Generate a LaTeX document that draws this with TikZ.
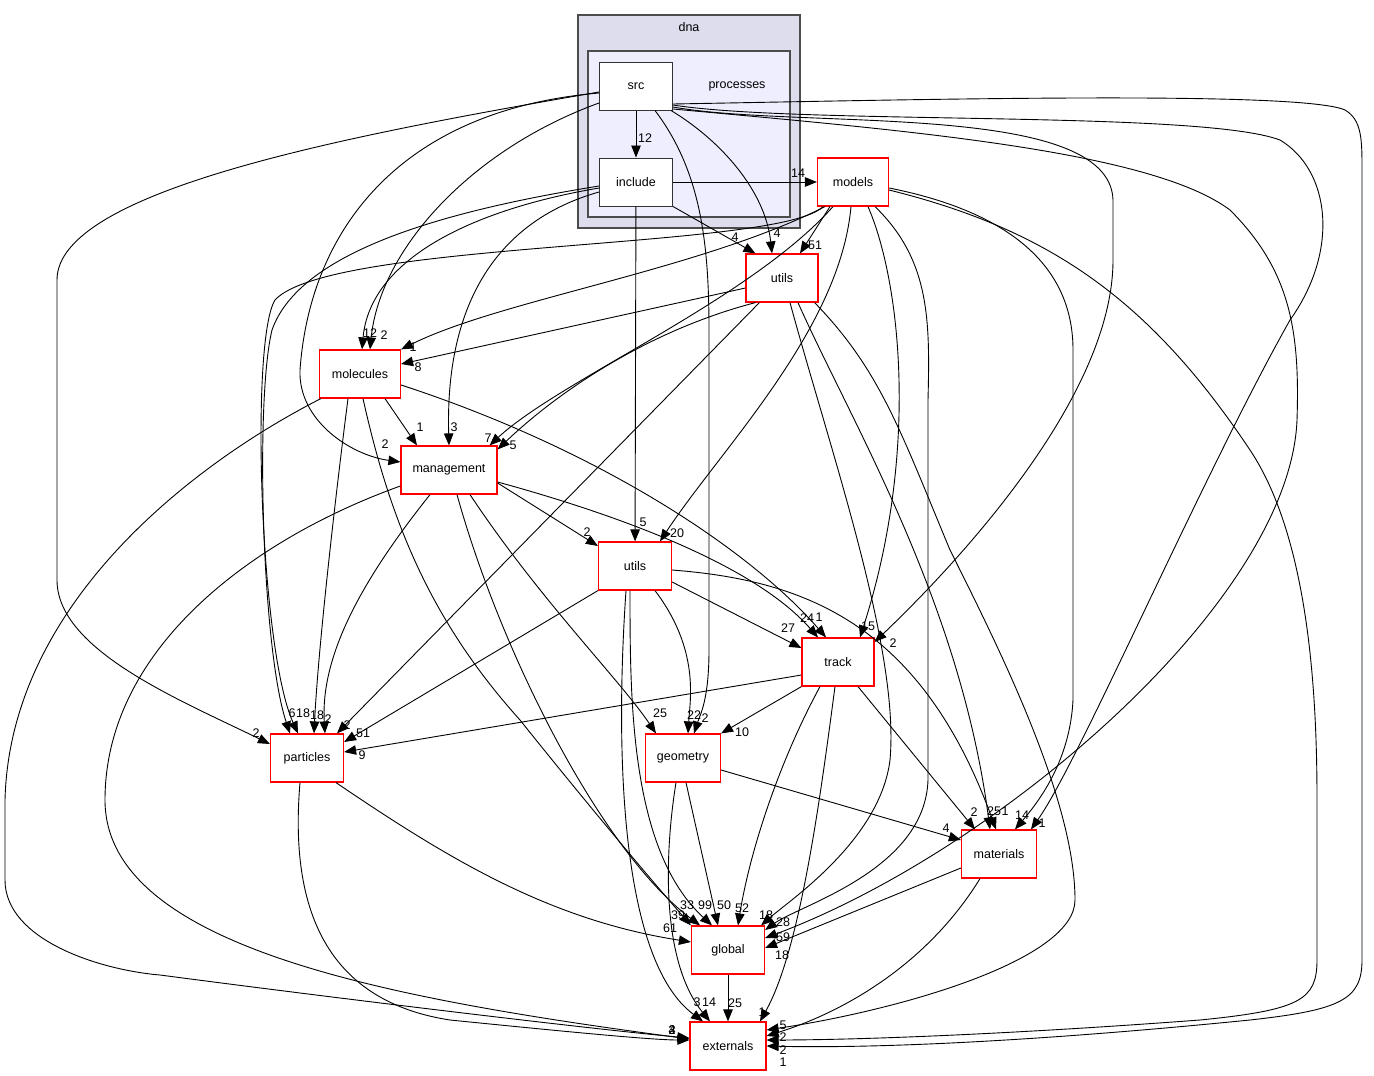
\documentclass[tikz,border=0pt]{standalone}
\usepackage{fontspec}
\setmainfont{Liberation Sans}
\usetikzlibrary{arrows.meta,calc}
\begin{document}
\begin{tikzpicture}[x=1pt,y=-1pt,
  dirnode/.style={draw=red, line width=1.2pt, fill=white, minimum height=48pt, inner sep=0pt, font=\fontsize{12.5}{14}\selectfont},
  plainnode/.style={draw=black!80, line width=1pt, fill=white, minimum height=48pt, minimum width=73pt, inner sep=0pt, font=\fontsize{12.5}{14}\selectfont},
  lbl/.style={inner sep=0pt, font=\fontsize{12.5}{14}\selectfont},
  edge/.style={line width=0.9pt, -{Triangle[length=12pt,width=9.5pt]}}]
\useasboundingbox (0,0) rectangle (1374,1076);
\fill[white] (0,0) rectangle (1374,1076);
% clusters
\draw[fill={rgb,255:red,221;green,221;blue,238}, draw=black!70, line width=1.2pt] (578,15) rectangle (800,228);
\node[lbl] (dnalbl) at (689,27) {dna};
\draw[fill={rgb,255:red,238;green,238;blue,255}, draw=black!70, line width=1.2pt] (588,51) rectangle (790,217);
\node[lbl] (proclbl) at (737,86) {processes};
% nodes
\node[plainnode] (src) at (636,86) {src};
\node[plainnode] (include) at (636,182) {include};
\node[dirnode, minimum width=71pt] (models) at (853,182) {models};
\node[dirnode, minimum width=72pt] (utilsA) at (782,278) {utils};
\node[dirnode, minimum width=81pt] (molecules) at (360,374) {molecules};
\node[dirnode, minimum width=96pt] (management) at (449,470) {management};
\node[dirnode, minimum width=73pt] (utilsB) at (635,566) {utils};
\node[dirnode, minimum width=72pt] (track) at (838,662) {track};
\node[dirnode, minimum width=73pt] (particles) at (307,758) {particles};
\node[dirnode, minimum width=75pt] (geometry) at (683,758) {geometry};
\node[dirnode, minimum width=75pt] (materials) at (999,854) {materials};
\node[dirnode, minimum width=73pt] (global) at (728,950) {global};
\node[dirnode, minimum width=76pt] (externals) at (728,1046) {externals};
% edges from src
\draw[edge] (src) -- (include);
\draw[edge] ($(src.west)+(0,6)$) .. controls (350,135) and (57,190) .. (57,280) -- (57,580) .. controls (57,650) and (180,700) .. ($(particles.west)+(0,-14)$);
\draw[edge] ($(src.west)+(0,7)$) .. controls (400,110) and (310,230) .. (300,370) .. controls (298,420) and (350,455) .. ($(management.west)+(0,-8)$);
\draw[edge] ($(src.west)+(0,17)$) .. controls (470,150) and (380,250) .. ($(molecules.north)+(10,0)$);
\draw[edge] ($(src.south east)+(-2,0)$) .. controls (720,140) and (765,190) .. ($(utilsA.north)+(-10,0)$);
\draw[edge] ($(src.south)+(19,0)$) .. controls (700,170) and (709,240) .. (709,330) -- (709,650) .. controls (709,700) and (700,715) .. ($(geometry.north)+(11,0)$);
\draw[edge] ($(src.east)+(0,21)$) .. controls (800,130) and (1110,100) .. (1113,200) -- (1113,260) .. controls (1113,400) and (950,570) .. ($(track.east)+(0,-20)$);
\draw[edge] ($(src.east)+(0,19)$) .. controls (800,125) and (1200,110) .. (1280,140) .. controls (1330,170) and (1340,250) .. (1290,320) .. controls (1200,480) and (1080,760) .. ($(materials.north)+(32,0)$);
\draw[edge] ($(src.east)+(0,23)$) .. controls (900,130) and (1150,150) .. (1230,210) .. controls (1290,270) and (1300,330) .. (1297,420) .. controls (1290,600) and (1000,850) .. ($(global.east)+(0,-12)$);
\draw[edge] ($(src.east)+(0,18)$) .. controls (900,100) and (1300,90) .. (1345,110) .. controls (1362,120) and (1362,140) .. (1362,170) -- (1362,960) .. controls (1362,1000) and (1340,1010) .. (1250,1020) .. controls (1000,1045) and (850,1048) .. (externals.east);
% edges from include
\draw[edge] (include) -- (models);
\draw[edge] (include.south east) -- ($(utilsA.north west)+(10,0)$);
\draw[edge] (include) -- (utilsB);
\draw[edge] ($(include.west)+(0,6)$) .. controls (470,210) and (370,260) .. ($(molecules.north)+(2,0)$);
\draw[edge] ($(include.west)+(0,10)$) .. controls (500,220) and (445,300) .. (management.north);
\draw[edge] ($(include.west)+(0,4)$) .. controls (450,210) and (300,250) .. (272,330) .. controls (255,400) and (262,650) .. ($(particles.north)+(-17,0)$);
% edges from models
\draw[edge] ($(models.south)+(-23,0)$) -- ($(utilsA.north)+(18,0)$);
\draw[edge] ($(models.south)+(-28,0)$) .. controls (700,270) and (500,300) .. (molecules.north east);
\draw[edge] ($(models.south)+(-30,0)$) .. controls (780,250) and (330,240) .. (275,300) .. controls (250,340) and (260,650) .. ($(particles.north)+(-9,0)$);
\draw[edge] ($(models.south)+(-20,0)$) .. controls (750,300) and (560,380) .. ($(management.north east)+(-8,0)$);
\draw[edge] ($(models.south)+(-2,0)$) .. controls (840,330) and (720,450) .. ($(utilsB.north)+(25,0)$);
\draw[edge] ($(models.south)+(15,0)$) .. controls (900,280) and (920,450) .. ($(track.north)+(22,0)$);
\draw[edge] ($(models.south)+(22,0)$) .. controls (930,260) and (930,320) .. (928,400) -- (928,780) .. controls (925,870) and (800,905) .. ($(global.east)+(0,-20)$);
\draw[edge] ($(models.east)+(0,6)$) .. controls (1000,210) and (1073,260) .. (1073,350) -- (1073,700) .. controls (1070,760) and (1040,800) .. ($(materials.north)+(16,0)$);
\draw[edge] ($(models.east)+(0,8)$) .. controls (1050,230) and (1150,300) .. (1250,450) .. controls (1310,540) and (1317,700) .. (1317,800) -- (1317,960) .. controls (1317,1000) and (1300,1010) .. (1200,1020) .. controls (1000,1035) and (850,1040) .. ($(externals.east)+(0,-6)$);
% edges from utils (top)
\draw[edge] ($(utilsA.west)+(0,10)$) -- ($(molecules.east)+(0,-10)$);
\draw[edge] ($(utilsA.south west)+(10,0)$) .. controls (650,330) and (560,390) .. ($(management.north east)+(0,4)$);
\draw[edge] ($(utilsA.south west)+(14,0)$) -- ($(particles.north)+(30,0)$);
\draw[edge] ($(utilsA.south)+(8,0)$) .. controls (830,450) and (900,650) .. (890,760) .. controls (880,840) and (790,900) .. ($(global.north east)+(-4,0)$);
\draw[edge] ($(utilsA.south)+(16,0)$) .. controls (850,420) and (960,600) .. ($(materials.north)+(-9,0)$);
\draw[edge] ($(utilsA.south east)+(-4,0)$) .. controls (880,370) and (900,430) .. (950,550) .. controls (1000,650) and (1075,800) .. (1075,900) .. controls (1075,960) and (900,1010) .. ($(externals.east)+(0,-16)$);
% edges from molecules
\draw[edge] ($(molecules.south)+(25,0)$) -- ($(management.north)+(-32,0)$);
\draw[edge] ($(molecules.south)+(-12,0)$) .. controls (335,500) and (318,650) .. ($(particles.north)+(7,0)$);
\draw[edge] ($(molecules.south)+(3,0)$) .. controls (390,520) and (430,620) .. (520,720) .. controls (600,820) and (660,890) .. (global.north west);
\draw[edge] ($(molecules.east)+(0,11)$) .. controls (600,450) and (750,550) .. ($(track.north)+(-12,0)$);
\draw[edge] ($(molecules.south west)+(2,0)$) .. controls (200,460) and (10,600) .. (5,800) -- (5,880) .. controls (5,940) and (100,970) .. (160,975) .. controls (350,1000) and (600,1030) .. ($(externals.west)+(0,-8)$);
% edges from management
\draw[edge] ($(management.east)+(0,13)$) -- ($(utilsB.west)+(0,-20)$);
\draw[edge] ($(management.east)+(0,12)$) .. controls (600,510) and (750,560) .. ($(track.north)+(-20,0)$);
\draw[edge] ($(management.south)+(21,0)$) .. controls (540,600) and (620,680) .. ($(geometry.north)+(-27,0)$);
\draw[edge] ($(management.south)+(8,0)$) .. controls (500,650) and (600,850) .. ($(global.north)+(-28,0)$);
\draw[edge] ($(management.south)+(-19,0)$) .. controls (370,570) and (320,650) .. ($(particles.north)+(18,0)$);
\draw[edge] ($(management.west)+(0,16)$) .. controls (250,540) and (105,650) .. (105,800) .. controls (105,950) and (400,1000) .. ($(externals.west)+(0,-7)$);
% edges from utils (mid)
\draw[edge] ($(utilsB.east)+(0,16)$) -- ($(track.west)+(0,-14)$);
\draw[edge] (utilsB.south west) -- ($(particles.east)+(0,-16)$);
\draw[edge] ($(utilsB.south)+(20,0)$) .. controls (700,650) and (690,700) .. ($(geometry.north)+(5,0)$);
\draw[edge] ($(utilsB.south)+(-5,0)$) .. controls (630,700) and (630,850) .. ($(global.north)+(-16,0)$);
\draw[edge] ($(utilsB.south)+(-9,0)$) .. controls (615,750) and (620,960) .. ($(externals.north)+(-25,0)$);
\draw[edge] ($(utilsB.east)+(0,4)$) .. controls (800,580) and (920,620) .. ($(materials.north)+(-3,0)$);
% edges from track
\draw[edge] ($(track.west)+(0,13)$) -- ($(particles.east)+(0,-6)$);
\draw[edge] (track.south west) -- (geometry.north east);
\draw[edge] ($(track.south)+(-18,0)$) .. controls (780,760) and (750,850) .. ($(global.north)+(10,0)$);
\draw[edge] ($(track.south)+(20,0)$) -- ($(materials.north)+(-24,0)$);
\draw[edge] ($(track.south)+(-3,0)$) .. controls (820,800) and (800,950) .. ($(externals.north)+(32,0)$);
% edges from particles, geometry, materials, global
\draw[edge] ($(particles.south)+(29,0)$) .. controls (450,860) and (550,920) .. ($(global.west)+(0,-8)$);
\draw[edge] ($(particles.south)+(-7,0)$) .. controls (290,900) and (320,1000) .. (450,1020) .. controls (550,1030) and (650,1040) .. ($(externals.west)+(0,-6)$);
\draw[edge] ($(geometry.east)+(0,12)$) -- ($(materials.west)+(0,-14)$);
\draw[edge] ($(geometry.south)+(3,0)$) -- ($(global.north)+(-10,0)$);
\draw[edge] ($(geometry.south)+(-7,0)$) .. controls (665,850) and (660,960) .. ($(externals.north)+(-18,0)$);
\draw[edge] ($(materials.west)+(0,14)$) -- ($(global.east)+(0,-2)$);
\draw[edge] ($(materials.south)+(-19,0)$) .. controls (930,960) and (850,1010) .. ($(externals.east)+(0,-10)$);
\draw[edge] (global) -- (externals);
% labels
\node[lbl] (l1) at (645,138) {12};
\node[lbl] (l2) at (256,733) {2};
\node[lbl] (l3) at (385,444) {2};
\node[lbl] (l4) at (384,335) {2};
\node[lbl] (l5) at (777,233) {4};
\node[lbl] (l6) at (705,718) {2};
\node[lbl] (l7) at (893,643) {2};
\node[lbl] (l8) at (1042,823) {1};
\node[lbl] (l9) at (783,937) {59};
\node[lbl] (l10) at (783,1062) {1};
\node[lbl] (l11) at (798,173) {14};
\node[lbl] (l12) at (735,237) {4};
\node[lbl] (l13) at (643,522) {5};
\node[lbl] (l14) at (370,333) {12};
\node[lbl] (l15) at (454,427) {3};
\node[lbl] (l16) at (292,713) {6};
\node[lbl] (l17) at (815,245) {51};
\node[lbl] (l18) at (413,347) {1};
\node[lbl] (l19) at (303,713) {18};
\node[lbl] (l20) at (488,438) {7};
\node[lbl] (l21) at (677,533) {20};
\node[lbl] (l22) at (868,626) {15};
\node[lbl] (l23) at (783,922) {28};
\node[lbl] (l24) at (1022,815) {14};
\node[lbl] (l25) at (783,1037) {2};
\node[lbl] (l26) at (418,367) {8};
\node[lbl] (l27) at (513,445) {5};
\node[lbl] (l28) at (347,725) {2};
\node[lbl] (l29) at (766,915) {18};
\node[lbl] (l30) at (994,811) {25};
\node[lbl] (l31) at (783,1025) {5};
\node[lbl] (l32) at (420,427) {1};
\node[lbl] (l33) at (317,715) {18};
\node[lbl] (l34) at (678,915) {39};
\node[lbl] (l35) at (819,617) {1};
\node[lbl] (l36) at (672,1030) {3};
\node[lbl] (l37) at (587,532) {2};
\node[lbl] (l38) at (807,618) {24};
\node[lbl] (l39) at (660,713) {25};
\node[lbl] (l40) at (687,905) {33};
\node[lbl] (l41) at (328,719) {2};
\node[lbl] (l42) at (672,1030) {2};
\node[lbl] (l43) at (788,628) {27};
\node[lbl] (l44) at (363,733) {51};
\node[lbl] (l45) at (694,715) {22};
\node[lbl] (l46) at (705,905) {99};
\node[lbl] (l47) at (697,1002) {3};
\node[lbl] (l48) at (1005,811) {1};
\node[lbl] (l49) at (362,755) {9};
\node[lbl] (l50) at (742,732) {10};
\node[lbl] (l51) at (742,908) {52};
\node[lbl] (l52) at (974,812) {2};
\node[lbl] (l53) at (762,1012) {1};
\node[lbl] (l54) at (670,928) {61};
\node[lbl] (l55) at (672,1030) {4};
\node[lbl] (l56) at (946,828) {4};
\node[lbl] (l57) at (724,905) {50};
\node[lbl] (l58) at (709,1002) {14};
\node[lbl] (l59) at (782,955) {18};
\node[lbl] (l60) at (783,1050) {2};
\node[lbl] (l61) at (735,1003) {25};
\end{tikzpicture}
\end{document}
